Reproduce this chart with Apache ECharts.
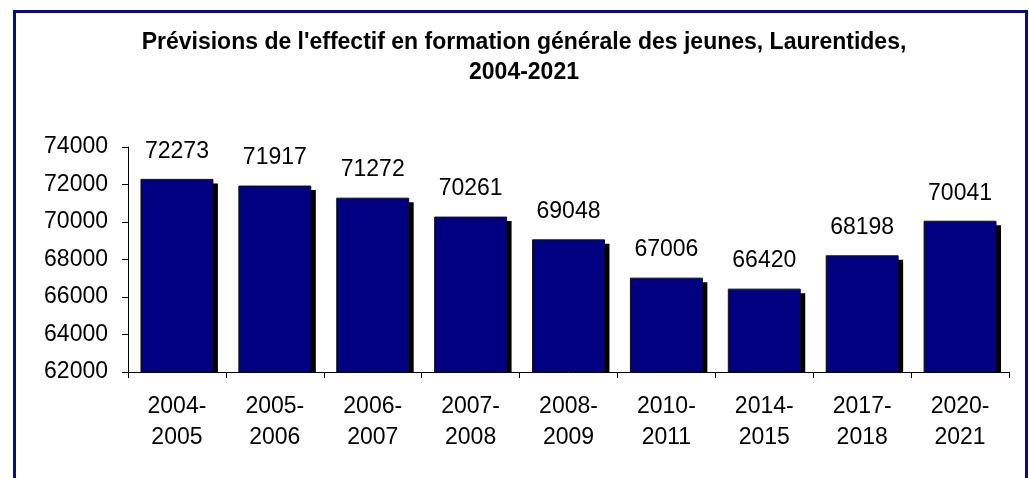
<!DOCTYPE html>
<html lang="fr">
<head>
    <meta charset="UTF-8">
    <title>Prévisions de l'effectif, Laurentides</title>
    <script src="https://cdn.jsdelivr.net/npm/echarts@6/dist/echarts.min.js"></script>
    <style>
        html, body { margin: 0; padding: 0; background: #fff; }
        #main { width: 1029px; height: 478px; }
    </style>
</head>
<body>
<div id="main"></div>
<script>
    // données
    const annees = ['2004-\n2005', '2005-\n2006', '2006-\n2007', '2007-\n2008', '2008-\n2009',
                    '2010-\n2011', '2014-\n2015', '2017-\n2018', '2020-\n2021'];
    const effectifs = [72273, 71917, 71272, 70261, 69048, 67006, 66420, 68198, 70041];
    const yMin = 62000, yMax = 74000, yStep = 2000;

    const font = '"Liberation Sans", Arial, sans-serif';
    const labelSize = 23;
    let myChart = echarts.init(document.getElementById('main'));

    // barre + ombre noire décalée, coupée à l'axe
    function renderBar(params, api) {
        let top = api.coord([api.value(0), api.value(1)]);
        let base = api.coord([api.value(0), yMin]);
        let w = api.size([1, 0])[0] * 0.735;
        let x = top[0] - w / 2;
        let h = base[1] - top[1];
        return {
            type: 'group',
            children: [
                { type: 'rect', shape: { x: x + 5, y: top[1] + 4, width: w, height: h - 4 },
                  style: { fill: '#000' } },
                { type: 'rect', shape: { x: x, y: top[1], width: w, height: h },
                  style: { fill: '#000080', stroke: '#111', lineWidth: 1 } },
                { type: 'text', x: top[0], y: top[1] - 28,
                  style: { text: String(api.value(1)), fill: '#000', font: labelSize + 'px ' + font,
                           textAlign: 'center', textVerticalAlign: 'middle' } }
            ]
        };
    }

    let option = {
        animation: false,
        backgroundColor: '#fff',
        title: {
            text: "Prévisions de l'effectif en formation générale des jeunes, Laurentides,\n2004-2021",
            left: 519,
            top: 23,
            textAlign: 'center',
            textStyle: { fontFamily: font, fontSize: 23, fontWeight: 'bold', color: '#000', lineHeight: 30 }
        },
        graphic: [{
            type: 'rect',
            shape: { x: 14.5, y: 11.5, width: 1012, height: 520 },
            style: { fill: 'none', stroke: '#0a0a8c', lineWidth: 3 },
            silent: true
        }],
        grid: { left: 128, right: 20, top: 147, bottom: 106 },
        xAxis: {
            type: 'category',
            data: annees,
            axisLine: { lineStyle: { color: '#000', width: 1 } },
            axisTick: { show: true, length: 6, alignWithLabel: false, lineStyle: { color: '#000' } },
            axisLabel: { color: '#000', fontFamily: font, fontSize: labelSize, lineHeight: 31, margin: 19 }
        },
        yAxis: {
            type: 'value',
            min: yMin,
            max: yMax,
            interval: yStep,
            axisLine: { show: true, lineStyle: { color: '#000', width: 1 } },
            axisTick: { show: true, length: 6, lineStyle: { color: '#000' } },
            axisLabel: { color: '#000', fontFamily: font, fontSize: labelSize, margin: 20,
                         formatter: v => String(v) },
            splitLine: { show: false }
        },
        series: [{
            type: 'custom',
            renderItem: renderBar,
            data: effectifs.map((v, i) => [i, v]),
            encode: { x: 0, y: 1 },
            clip: false
        }]
    };
    myChart.setOption(option);
</script>
</body>
</html>
